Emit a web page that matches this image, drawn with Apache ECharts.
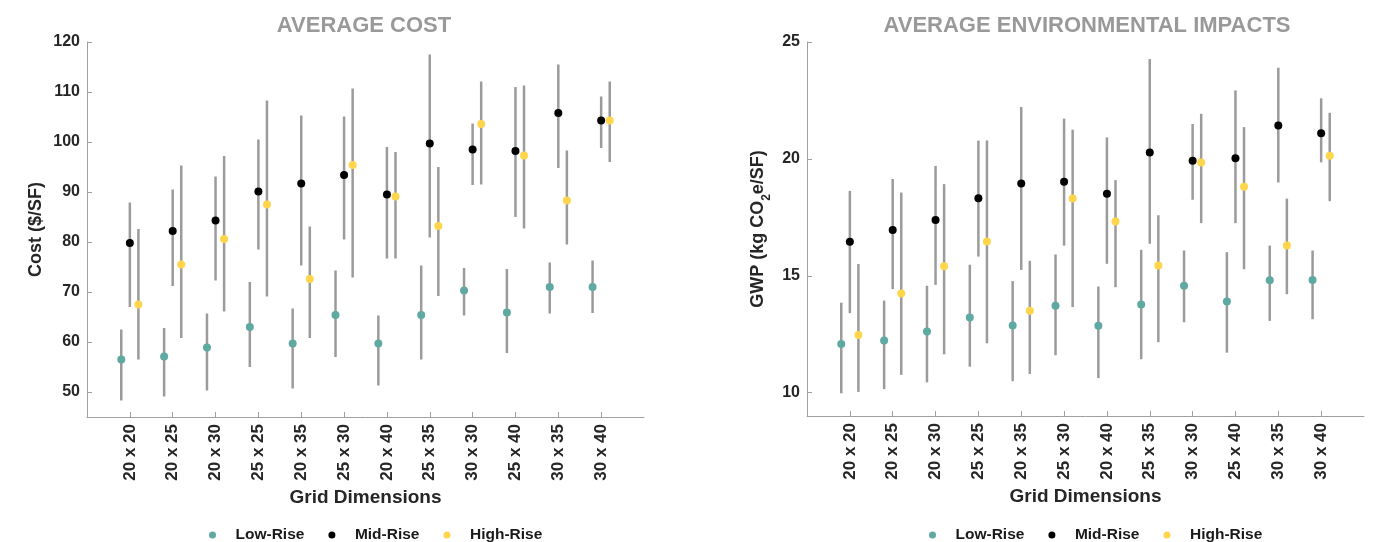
<!DOCTYPE html>
<html>
<head>
<meta charset="utf-8">
<script src="https://cdn.jsdelivr.net/npm/echarts@6/dist/echarts.min.js"></script>
<style>
html,body{margin:0;padding:0;background:#fff;}
#chart{width:1375px;height:542px;}
</style>
</head>
<body>
<div id="chart"></div>
<script>
const categories = ['20 x 20','20 x 25','20 x 30','25 x 25','20 x 35','25 x 30','20 x 40','25 x 35','30 x 30','25 x 40','30 x 35','30 x 40'];
const seriesNames = ['Low-Rise','Mid-Rise','High-Rise'];
const costTicks = [50,60,70,80,90,100,110,120];
const gwpTicks = [10,15,20,25];

const costLow     = [56.5, 57.1, 58.9, 63.0, 59.7, 65.4, 59.7, 65.4, 70.3, 65.9, 71.0, 71.0];
const costLowMin  = [48.3, 49.1, 50.3, 55.0, 50.7, 57.0, 51.3, 56.5, 65.3, 57.8, 65.7, 65.8];
const costLowMax  = [62.5, 62.8, 65.7, 72.0, 66.7, 74.3, 65.3, 75.3, 74.8, 74.6, 75.9, 76.3];
const costMid     = [79.8, 82.2, 84.3, 90.1, 91.7, 93.4, 89.5, 99.7, 98.5, 98.2, 105.8, 104.3];
const costMidMin  = [67.0, 71.2, 72.3, 78.5, 75.3, 80.5, 76.7, 80.9, 91.4, 85.0, 94.8, 98.8];
const costMidMax  = [87.9, 90.5, 93.1, 100.5, 105.3, 105.1, 99.0, 117.5, 103.7, 111.0, 115.5, 109.1];
const costHigh    = [67.5, 75.5, 80.6, 87.5, 72.6, 95.4, 89.1, 83.2, 103.6, 97.3, 88.3, 104.3];
const costHighMin = [56.5, 60.8, 66.1, 69.1, 60.8, 72.9, 76.7, 69.2, 91.5, 82.7, 79.5, 96.0];
const costHighMax = [82.6, 95.3, 97.2, 108.3, 83.1, 110.7, 98.0, 95.0, 112.1, 111.3, 98.3, 112.1];

const gwpLow     = [12.08, 12.23, 12.61, 13.21, 12.87, 13.72, 12.86, 13.77, 14.57, 13.90, 14.81, 14.82];
const gwpLowMin  = [9.97, 10.15, 10.44, 11.11, 10.49, 11.60, 10.62, 11.43, 13.01, 11.71, 13.07, 13.14];
const gwpLowMax  = [13.85, 13.94, 14.57, 15.47, 14.77, 15.91, 14.54, 16.11, 16.08, 16.01, 16.29, 16.08];
const gwpMid     = [16.45, 16.96, 17.39, 18.32, 18.95, 19.02, 18.51, 20.27, 19.92, 20.03, 21.43, 21.10];
const gwpMidMin  = [13.40, 14.43, 14.61, 15.82, 15.25, 16.29, 15.51, 16.37, 18.25, 17.25, 18.99, 19.85];
const gwpMidMax  = [18.63, 19.14, 19.70, 20.78, 22.22, 21.72, 20.92, 24.27, 21.49, 22.93, 23.90, 22.59];
const gwpHigh    = [12.46, 14.24, 15.41, 16.46, 13.50, 18.30, 17.32, 15.44, 19.85, 18.81, 16.29, 20.13];
const gwpHighMin = [10.03, 10.76, 11.64, 12.11, 10.80, 13.66, 14.51, 12.16, 17.25, 15.28, 14.21, 18.19];
const gwpHighMax = [15.50, 18.56, 18.92, 20.79, 15.64, 21.25, 19.09, 17.59, 21.93, 21.36, 18.30, 21.97];

const FONT = '"Liberation Sans", Arial, Helvetica, sans-serif';
const colors = ['#5fa9a3', '#000000', '#ffd54c'];
const offsets = [-0.2, 0, 0.2];
const AX = '#a0a0a0';
const TXT = '#262626';

function errRender(params, api) {
  const x = api.value(0);
  const p1 = api.coord([x, api.value(1)]);
  const p2 = api.coord([x, api.value(2)]);
  return {type:'line', shape:{x1:p1[0], y1:p1[1], x2:p2[0], y2:p2[1]},
          style:{stroke:'#9b9b9b', lineWidth:2.5}};
}

function buildSeries(gridIdx, groups) {
  const out = [];
  groups.forEach((g, k) => {
    out.push({
      type:'custom', name: seriesNames[k] + ' range ' + gridIdx,
      xAxisIndex: gridIdx, yAxisIndex: gridIdx,
      renderItem: errRender, encode:{x:0, y:[1,2]}, silent:true, z:1,
      data: g.vals.map((v, i) => [i + 1 + offsets[k], g.lo[i], g.hi[i]])
    });
  });
  groups.forEach((g, k) => {
    out.push({
      type:'scatter', name: seriesNames[k],
      xAxisIndex: gridIdx, yAxisIndex: gridIdx,
      symbol:'circle', symbolSize:8, z:3,
      itemStyle:{color: colors[k], opacity:1},
      data: g.vals.map((v, i) => [i + 1 + offsets[k], v])
    });
  });
  return out;
}

function xAxis(gridIdx) {
  return {
    type:'value', gridIndex: gridIdx, min:0, max:13, interval:1,
    name:'Grid Dimensions', nameLocation:'middle', nameGap:67,
    nameTextStyle:{fontFamily:FONT, fontSize:19, fontWeight:'bold', color:TXT},
    axisLine:{show:true, lineStyle:{color:AX, width:1}},
    axisTick:{show:true, inside:true, length:5, lineStyle:{color:AX}},
    axisLabel:{rotate:90, margin:7, fontFamily:FONT, fontSize:17, fontWeight:'bold', color:TXT,
      showMinLabel:false, showMaxLabel:false,
      formatter: v => (v >= 1 && v <= categories.length) ? categories[v - 1] : ''},
    splitLine:{show:false}
  };
}

function yAxis(gridIdx, min, max, ticks, splitNumber, name, nameGap, rich) {
  return {
    type:'value', gridIndex: gridIdx, min:min, max:max, splitNumber:splitNumber,
    name:name, nameLocation:'middle', nameGap:nameGap,
    nameTextStyle:Object.assign({fontFamily:FONT, fontSize:18, fontWeight:'bold', color:TXT}, rich ? {rich:rich} : {}),
    axisLine:{show:true, lineStyle:{color:AX, width:1}},
    axisTick:{show:true, inside:true, length:5, lineStyle:{color:AX}, customValues: ticks},
    axisLabel:{margin:7, fontFamily:FONT, fontSize:16, fontWeight:'bold', color:TXT, customValues: ticks,
      formatter: v => ticks.indexOf(v) >= 0 ? String(v) : ''},
    splitLine:{show:false}
  };
}

const legendBase = {
  orient:'horizontal', top:527, padding:0, itemWidth:36, itemHeight:7, itemGap:24,
  textStyle:{fontFamily:FONT, fontSize:15.5, fontWeight:'bold', color:'#1a1a1a'},
  data: seriesNames.map(n => ({name:n, icon:'circle'}))
};

const option = {
  animation:false,
  backgroundColor:'#ffffff',
  title:[
    {text:'AVERAGE COST', left:364, top:15, padding:0, textAlign:'center',
     textStyle:{fontFamily:FONT, fontSize:22, fontWeight:'bold', color:'#999999'}},
    {text:'AVERAGE ENVIRONMENTAL IMPACTS', left:1087, top:15, padding:0, textAlign:'center',
     textStyle:{fontFamily:FONT, fontSize:22, fontWeight:'bold', color:'#999999'}}
  ],
  legend:[
    Object.assign({}, legendBase, {left:209}),
    Object.assign({}, legendBase, {left:929})
  ],
  grid:[
    {left:87, top:42, width:557, height:375},
    {left:807, top:42, width:557, height:374}
  ],
  xAxis:[xAxis(0), xAxis(1)],
  yAxis:[
    yAxis(0, 45, 120, costTicks, 8, 'Cost ($/SF)', 42),
    yAxis(1, 9, 25, gwpTicks, 3, 'GWP (kg CO{sub|2}e/SF)', 40,
      {sub:{fontFamily:FONT, fontSize:12, fontWeight:'bold', color:TXT, verticalAlign:'bottom', lineHeight:12, padding:[0,0,-6,0]}})
  ],
  series: [].concat(
    buildSeries(0, [
      {vals:costLow, lo:costLowMin, hi:costLowMax},
      {vals:costMid, lo:costMidMin, hi:costMidMax},
      {vals:costHigh, lo:costHighMin, hi:costHighMax}
    ]),
    buildSeries(1, [
      {vals:gwpLow, lo:gwpLowMin, hi:gwpLowMax},
      {vals:gwpMid, lo:gwpMidMin, hi:gwpMidMax},
      {vals:gwpHigh, lo:gwpHighMin, hi:gwpHighMax}
    ])
  )
};

const chart = echarts.init(document.getElementById('chart'), null, {renderer:'canvas'});
chart.setOption(option);
</script>
</body>
</html>
